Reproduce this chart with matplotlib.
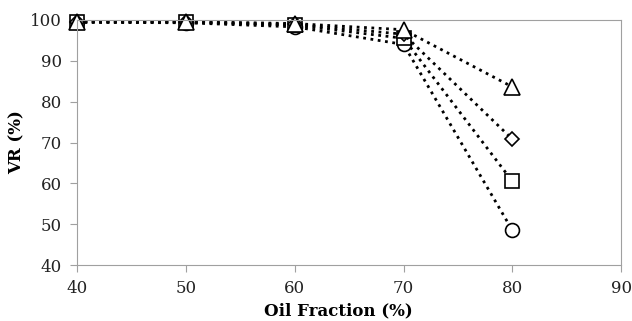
import matplotlib
matplotlib.use('Agg')
import matplotlib.pyplot as plt

oil_fraction = [40, 50, 60, 70, 80]
vr_circle = [99.4, 99.3, 98.3, 94.0, 48.5]
vr_square = [99.5, 99.4, 98.7, 95.5, 60.5]
vr_diamond = [99.5, 99.5, 98.9, 96.5, 70.8]
vr_triangle = [99.6, 99.6, 99.1, 97.6, 83.6]

plt.rcParams['font.family'] = ['DejaVu Serif']

fig = plt.figure(figsize=(6.32, 3.21), dpi=100)
ax = fig.add_axes([0.122, 0.174, 0.861, 0.764])

series = [(vr_circle, 'o', 10), (vr_square, 's', 10), (vr_diamond, 'D', 7), (vr_triangle, '^', 11)]
for vals, mk, ms in series:
    ax.plot(oil_fraction, vals, linestyle=':', color='black', linewidth=2.0,
            marker=mk, markersize=ms, markerfacecolor='white',
            markeredgecolor='black', markeredgewidth=1.2, clip_on=False)

ax.set_xlim(40, 90)
ax.set_ylim(40, 100)
ax.set_xticks(range(40, 91, 10))
ax.set_yticks(range(40, 101, 10))
for s in ax.spines.values():
    s.set_color('#a0a0a0')
ax.tick_params(direction='out', length=5, color='#a0a0a0', labelcolor='#222222',
               labelsize=12, pad=6)
ax.set_xlabel('Oil Fraction (%)', fontsize=12, fontweight='bold', labelpad=3)
ax.xaxis.set_label_coords(0.48, -0.15)
ax.set_ylabel('VR (%)', fontsize=12, fontweight='bold', labelpad=12)
ax.yaxis.set_label_coords(-0.095, 0.5)

fig.savefig('out.png', dpi=100)
